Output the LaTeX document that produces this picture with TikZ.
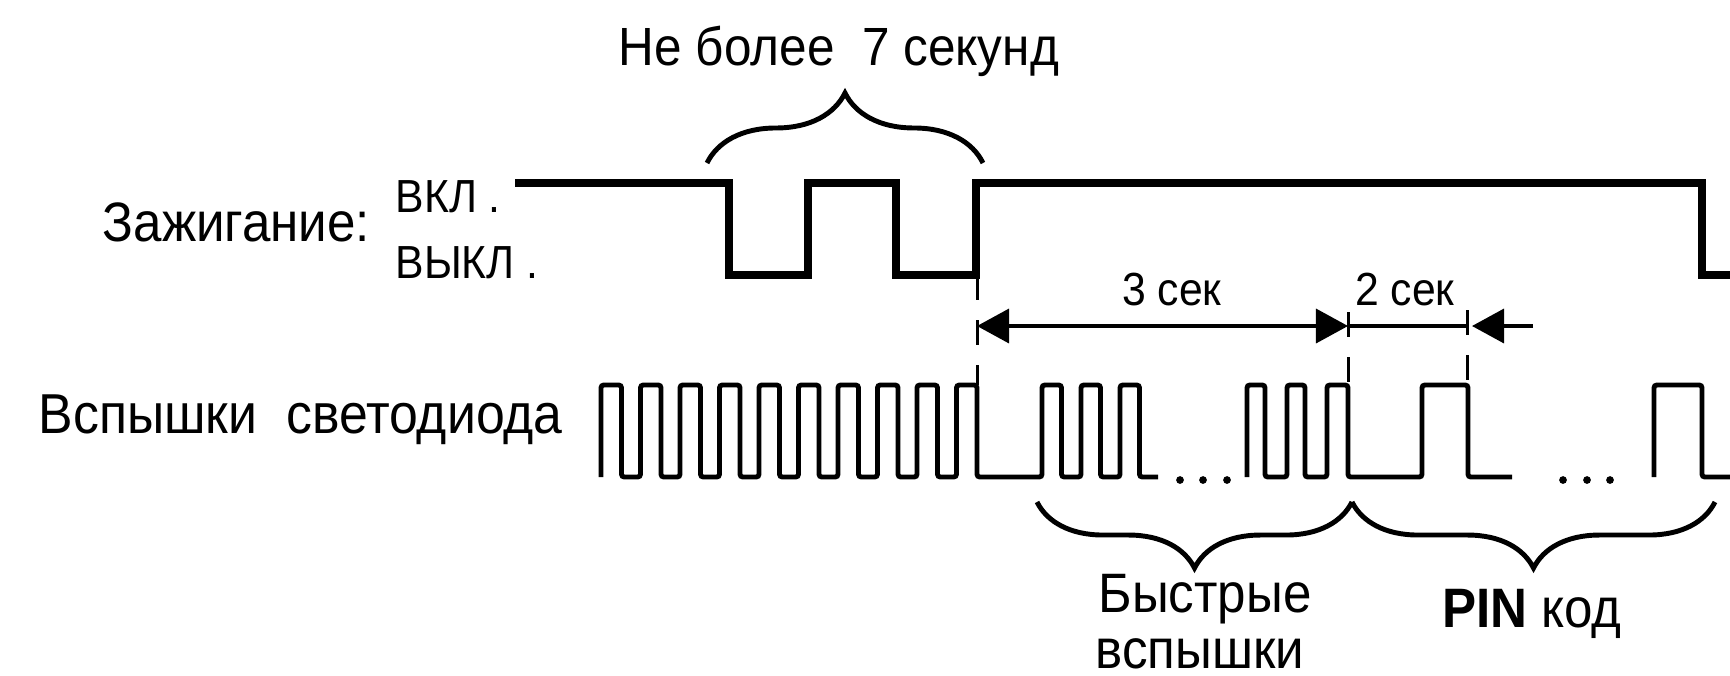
\documentclass[tikz,border=0pt]{standalone}
\usepackage{fontspec}
\setmainfont{Liberation Sans}[FakeStretch=0.92]
\usetikzlibrary{positioning, arrows.meta, decorations.pathreplacing}
\tikzset{tri/.tip={Triangle[length=3.2mm, width=3.4mm]}}

\begin{document}
\begin{tikzpicture}[x=0.01cm, y=-0.01cm,
  lbl/.style={inner sep=0pt, font=\fontsize{15.3}{18}\selectfont},
  sml/.style={inner sep=0pt, font=\fontsize{13.2}{16}\selectfont},
  btm/.style={inner sep=0pt, font=\fontsize{15.8}{18}\selectfont},
  ign/.style={line width=2.5pt},
  flash/.style={line width=1.4pt, rounded corners=0.8pt},
  brc/.style={line width=1.4pt, decorate, decoration={brace, amplitude=#1}},
  guide/.style={line width=0.85pt, dash pattern=on 0.25cm off 0.2cm},
  dim/.style={line width=1pt}]
\useasboundingbox (0,0) rectangle (1730,675);

% labels
\node[lbl, anchor=base west, font=\fontsize{15.8}{18}\selectfont] (ignlbl) at (102,241) {Зажигание:};
\node[sml, anchor=base west] (on) at (395,212) {ВКЛ .};
\node[sml, anchor=base west] (off) at (395,278) {ВЫКЛ .};
\node[lbl, anchor=base] (limit) at (839,65) {Не более\ \ 7 секунд};
\node[lbl, anchor=base west, font=\fontsize{16}{18}\selectfont] (ledlbl) at (38,433) {Вспышки\ \ светодиода};
\node[sml, anchor=base] (t3) at (1172,305) {3 сек};
\node[sml, anchor=base] (t2) at (1405,305) {2 сек};
\node[btm, anchor=base] (fast) at (1205,612) {Быстрые};
\node[btm, anchor=base] (fast2) at (1200,668) {вспышки};
\node[btm, anchor=base] (pin) at (1532,627) {\textbf{PIN} код};

% ignition
\draw[ign] (515,183) -- (729,183) -- (729,275) -- (808,275) -- (808,183)
  -- (896,183) -- (896,275) -- (976,275) -- (976,183) -- (1702,183)
  -- (1702,275) -- (1740,275);

% led flashes
\draw[flash] (601,477) \foreach \k in {0,...,9} {
    -- ({601+39.5*\k},477) -- ({601+39.5*\k},385)
    -- ({621.5+39.5*\k},385) -- ({621.5+39.5*\k},477)}
  \foreach \k in {0,1,2} {
    -- ({1042+39*\k},477) -- ({1042+39*\k},385)
    -- ({1061.5+39*\k},385) -- ({1061.5+39*\k},477)}
  -- (1158,477);
\draw[flash] (1247,477) -- (1247,385) -- (1265,385) -- (1265,477) -- (1287,477)
  -- (1287,385) -- (1305,385) -- (1305,477) -- (1327,477) -- (1327,385)
  -- (1348,385) -- (1348,477) -- (1422,477) -- (1422,385) -- (1468,385)
  -- (1468,477) -- (1512,477);
\draw[flash] (1654,477) -- (1654,385) -- (1702,385) -- (1702,477) -- (1740,477);
\foreach \x in {1180,1203,1227,1563,1587,1610}
  \fill (\x,480) circle (1.1pt);

% timing marks
\coordinate (g1) at (977,275);
\coordinate (g1b) at (977,385);
\coordinate (g2) at (1348,312);
\coordinate (g2b) at (1348,385);
\coordinate (g3) at (1467,310);
\coordinate (g3b) at (1467,385);
\draw[guide] (g1) -- (g1b);
\draw[guide] (g2) -- (g2b);
\draw[guide] (g3) -- (g3b);
\coordinate (a1) at (977,326);
\coordinate (a2) at (1348,326);
\coordinate (a3) at (1467,326);
\coordinate (a4) at (1533,326);
\draw[dim, tri-tri] (a1) -- (a2);
\draw[dim] (a2) -- (a3);
\draw[dim, -tri] (a4) -- ([xshift=0.05cm]a3);

% braces
\draw[brc=0.7cm] (707,163) -- (983,163);
\draw[brc=0.66cm] (1352,502) -- (1037,502);
\draw[brc=0.66cm] (1715,502) -- (1352,502);
\end{tikzpicture}
\end{document}
